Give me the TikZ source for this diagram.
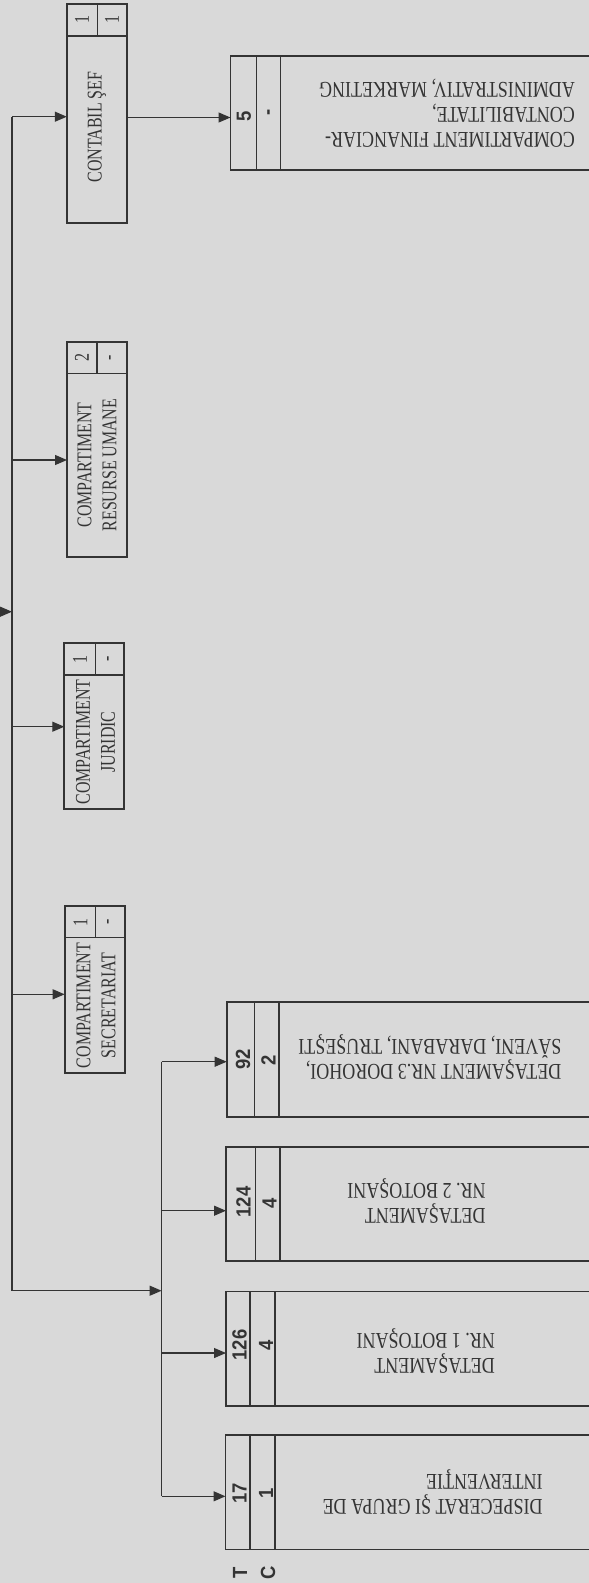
\documentclass[tikz,border=0pt]{standalone}
\usepackage{fontspec}
\usetikzlibrary{arrows.meta}
\newfontfamily\smallserif[FakeStretch=0.76]{Liberation Serif}
\newfontfamily\bigserif[FakeStretch=0.8]{Liberation Serif}
\newfontfamily\numsans[FakeStretch=0.9]{Liberation Sans}
\definecolor{bg}{RGB}{217,217,217}
\definecolor{ink}{RGB}{52,52,52}
\begin{document}
\begin{tikzpicture}[x=1pt,y=-1pt,
  box/.style={draw=ink, line width=1.8pt, rectangle, inner sep=0pt, outer sep=0pt},
  div/.style={draw=ink, line width=1.1pt},
  conn/.style={draw=ink, line width=1.2pt},
  arr/.style={conn, -{Triangle[length=12pt,width=10pt]}},
  stxt/.style={rotate=90, inner sep=0pt, text=ink, font=\smallserif\fontsize{21}{25}\selectfont, align=center},
  snum/.style={rotate=90, inner sep=0pt, text=ink, font=\smallserif\fontsize{21}{25}\selectfont},
  btxt/.style={rotate=180, anchor=west, inner sep=0pt, text=ink, font=\bigserif\fontsize{22.5}{25}\selectfont, align=left},
  bnum/.style={rotate=90, inner sep=0pt, text=ink, font=\numsans\bfseries\fontsize{20.5}{22}\selectfont},
]
\path[use as bounding box] (0,0) rectangle (589,1583);
\fill[bg] (0,0) rectangle (589,1583);
\clip (0,0) rectangle (589,1583);

% ---- small boxes ----
\node[box, minimum width=60pt, minimum height=219.3pt] (cs) at (96.8,113.65) {};
\node[box, minimum width=60pt, minimum height=215.6pt] (ru) at (97,449.5) {};
\node[box, minimum width=60pt, minimum height=166.6pt] (cj) at (94.3,726) {};
\node[box, minimum width=60pt, minimum height=167.3pt] (sec) at (94.65,989.65) {};
\draw[div] (cs.north west) ++(0,32) -- ++(60,0);
\draw[div] (cs.north west) ++(30.5,0) -- ++(0,32);
\draw[div] (ru.north west) ++(0,31.6) -- ++(60,0);
\draw[div] (ru.north west) ++(30,0) -- ++(0,31.6);
\draw[div] (cj.north west) ++(0,32.3) -- ++(60,0);
\draw[div] (cj.north west) ++(31,0) -- ++(0,32.3);
\draw[div] (sec.north west) ++(0,31.7) -- ++(60,0);
\draw[div] (sec.north west) ++(31,0) -- ++(0,31.7);

\node[stxt] (tcs) at (97,127) {CONTABIL ŞEF};
\node[snum] (ncs1) at (82,20) {1};
\node[snum] (ncs2) at (112,20) {1};
\node[stxt] (tru) at (97,465) {COMPARTIMENT\\RESURSE UMANE};
\node[snum] (nru1) at (82,357.5) {2};
\node[snum] (nru2) at (112,357.5) {-};
\node[stxt] (tcj) at (95.5,742) {COMPARTIMENT\\JURIDIC};
\node[snum] (ncj1) at (80,659) {1};
\node[snum] (ncj2) at (110,659) {-};
\node[stxt] (tsec) at (96,1005.5) {COMPARTIMENT\\SECRETARIAT};
\node[snum] (nsec1) at (80.5,922) {1};
\node[snum] (nsec2) at (110,922) {-};

% ---- big boxes ----
\node[box, minimum width=369.5pt, minimum height=114pt] (fin) at (415.25,113) {};
\node[box, minimum width=373.3pt, minimum height=115pt] (d3) at (413.35,1059.2) {};
\node[box, minimum width=374pt, minimum height=114pt] (d2) at (413,1203.7) {};
\node[box, minimum width=374pt, minimum height=114.5pt] (d1) at (413,1348.75) {};
\node[box, minimum width=374.5pt, minimum height=114.3pt] (dp) at (412.75,1492.35) {};
\draw[div] (fin.north west) ++(25.8,0) -- ++(0,114);
\draw[div] (fin.north west) ++(50.3,0) -- ++(0,114);
\draw[div] (d3.north west) ++(27.6,0) -- ++(0,115);
\draw[div] (d3.north west) ++(52.3,0) -- ++(0,115);
\draw[div] (d2.north west) ++(29.7,0) -- ++(0,114);
\draw[div] (d2.north west) ++(54,0) -- ++(0,114);
\draw[div] (d1.north west) ++(24,0) -- ++(0,114.5);
\draw[div] (d1.north west) ++(49,0) -- ++(0,114.5);
\draw[div] (dp.north west) ++(24.5,0) -- ++(0,114.3);
\draw[div] (dp.north west) ++(49.5,0) -- ++(0,114.3);

\node[btxt] (tfin) at (575,113.3) {COMPARTIMENT FINANCIAR-\\CONTABILITATE,\\ADMINISTRATIV, MARKETING};
\node[btxt] (td3) at (561.6,1057.5) {DETAŞAMENT NR.3 DOROHOI,\\SĂVENI, DARABANI, TRUŞEŞTI};
\node[btxt] (td2) at (485.7,1200.8) {DETAŞAMENT\\NR. 2 BOTOŞANI};
\node[btxt] (td1) at (495,1350.8) {DETAŞAMENT\\NR. 1 BOTOŞANI};
\node[btxt] (tdp) at (542.8,1492.5) {DISPECERAT ŞI GRUPA DE\\INTERVENŢIE};

\node[bnum] (nfin1) at (244,116) {5};
\node[bnum] (nfin2) at (270.5,112) {-};
\node[bnum] (nd31) at (243,1059) {92};
\node[bnum] (nd32) at (268.5,1060) {2};
\node[bnum] (nd21) at (243.5,1202) {124};
\node[bnum] (nd22) at (269.5,1203) {4};
\node[bnum] (nd11) at (239.5,1345) {126};
\node[bnum] (nd12) at (266,1345) {4};
\node[bnum] (ndp1) at (239.5,1493) {17};
\node[bnum] (ndp2) at (266,1493) {1};
\node[bnum] (lt) at (240,1573) {T};
\node[bnum] (lc) at (268,1573) {C};

% ---- connectors ----
\coordinate (tTop) at (12,116.7);
\coordinate (t2) at (12,460);
\coordinate (t3) at (12,726.7);
\coordinate (t4) at (12,994.3);
\coordinate (tBot) at (12,1290.7);
\coordinate (inL) at (-4,611.7);
\coordinate (inR) at (12,611.7);
\coordinate (dTop) at (161.6,1061.7);
\coordinate (dd2) at (161.6,1210.7);
\coordinate (dd1) at (161.6,1353);
\coordinate (dBot) at (161.6,1496.3);
\coordinate (dMid) at (161.6,1290.7);
\coordinate (fa) at (0,117.5);

\draw[conn] (tTop) -- (tBot);
\draw[arr] (tTop) -- (tTop -| cs.west);
\draw[arr] (t2) -- (t2 -| ru.west);
\draw[arr] (t3) -- (t3 -| cj.west);
\draw[arr] (t4) -- (t4 -| sec.west);
\draw[arr] (inL) -- (inR);
\draw[arr] (fa -| cs.east) -- (fa -| fin.west);
\draw[arr] (tBot) -- (dMid);
\draw[conn] (dTop) -- (dBot);
\draw[arr] (dTop) -- (dTop -| d3.west);
\draw[arr] (dd2) -- (dd2 -| d2.west);
\draw[arr] (dd1) -- (dd1 -| d1.west);
\draw[arr] (dBot) -- (dBot -| dp.west);
\end{tikzpicture}
\end{document}
